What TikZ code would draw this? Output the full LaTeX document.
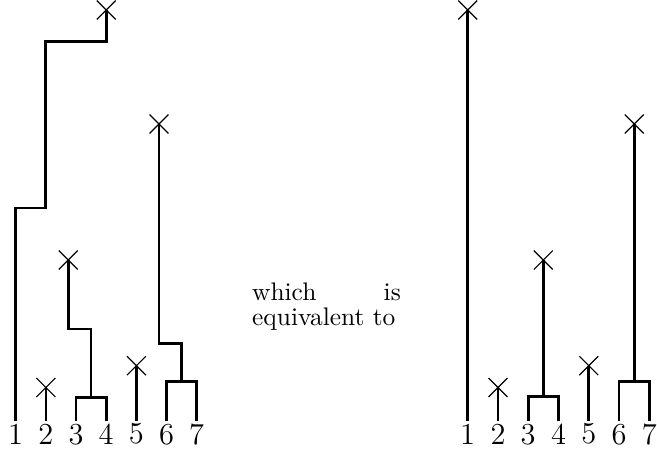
\documentclass[tikz,border=0pt]{standalone}
\usetikzlibrary{shapes.misc}
\begin{document}
\begin{tikzpicture}[x=0.3937pt,y=-0.3937pt,
  branch/.style={line width=1.1pt},
  xmark/.style={draw, cross out, minimum size=7pt, inner sep=0pt, line width=0.45pt},
  leaf/.style={font=\large, inner sep=1pt, anchor=north}]
\useasboundingbox (0,0) rectangle (657,451);
% ---------- left tree ----------
\node[leaf] (a1) at (15.7,420.7) {1};
\node[leaf] (a2) at (45.9,420.7) {2};
\node[leaf] (a3) at (76.0,420.7) {3};
\node[leaf] (a4) at (106.2,420.7) {4};
\node[leaf] (a5) at (136.4,420.7) {5};
\node[leaf] (a6) at (166.6,420.7) {6};
\node[leaf] (a7) at (196.7,420.7) {7};
\node[xmark] (ax1) at (106.2,10) {};
\node[xmark] (ax2) at (45.9,387.5) {};
\node[xmark] (ax34) at (68.3,260) {};
\node[xmark] (ax5) at (136.4,365.7) {};
\node[xmark] (ax67) at (159,124) {};
\coordinate (aj34) at (91.1,397.3);
\coordinate (aj67) at (181.7,381.7);
\draw[branch] (a1.north) |- (45.7,208) |- (106.2,41.7) -- (ax1.center);
\draw[branch] (a2.north) -- (ax2.center);
\draw[branch] (a3.north) |- (aj34) -| (a4.north);
\draw[branch] (aj34) -- (91.1,329) -| (ax34.center);
\draw[branch] (a5.north) -- (ax5.center);
\draw[branch] (a6.north) |- (aj67) -| (a7.north);
\draw[branch] (aj67) -- (181.7,343.3) -| (ax67.center);
% ---------- text ----------
\node[text width=58.5pt, align=justify, inner sep=0pt, anchor=north west,
      font={\fontsize{10pt}{9.8pt}\selectfont}] (txt) at (251.7,282.5) {which is equivalent to};
% ---------- right tree ----------
\node[leaf] (b1) at (467.7,420.7) {1};
\node[leaf] (b2) at (498.0,420.7) {2};
\node[leaf] (b3) at (528.2,420.7) {3};
\node[leaf] (b4) at (558.5,420.7) {4};
\node[leaf] (b5) at (588.8,420.7) {5};
\node[leaf] (b6) at (619.0,420.7) {6};
\node[leaf] (b7) at (649.3,420.7) {7};
\node[xmark] (bx1) at (467.7,10) {};
\node[xmark] (bx2) at (498.0,387.5) {};
\node[xmark] (bx34) at (543.3,260) {};
\node[xmark] (bx5) at (588.8,365.7) {};
\node[xmark] (bx67) at (634.2,124) {};
\coordinate (bj34) at (543.3,396.7);
\coordinate (bj67) at (634.2,381.7);
\draw[branch] (b1.north) -- (bx1.center);
\draw[branch] (b2.north) -- (bx2.center);
\draw[branch] (b3.north) |- (bj34) -| (b4.north);
\draw[branch] (bj34) -- (bx34.center);
\draw[branch] (b5.north) -- (bx5.center);
\draw[branch] (b6.north) |- (bj67) -| (b7.north);
\draw[branch] (bj67) -- (bx67.center);
\end{tikzpicture}
\end{document}
